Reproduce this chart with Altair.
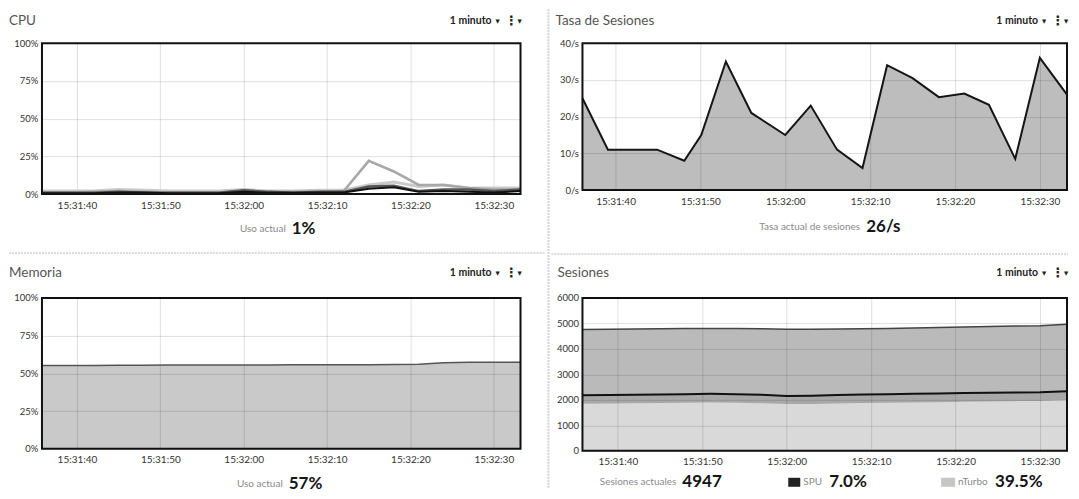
import altair as alt
import pandas as pd

# ---------------- data ----------------
tick_seconds = [40, 50, 60, 70, 80, 90]
tick_labels = ["15:31:40", "15:31:50", "15:32:00", "15:32:10", "15:32:20", "15:32:30"]

sample_times = ["15:31:35.8", "15:31:39.0", "15:31:42.0", "15:31:45.0", "15:31:48.0",
                "15:31:51.0", "15:31:54.0", "15:31:57.0", "15:32:00.0", "15:32:03.0",
                "15:32:06.0", "15:32:09.0", "15:32:12.0", "15:32:15.0", "15:32:18.0",
                "15:32:21.0", "15:32:24.0", "15:32:27.0", "15:32:30.0", "15:32:33.2"]

# CPU (%), four cores
cpu_spike = [1, 1, 1.5, 2, 1.5, 1, 1, 1, 2, 1.5, 1.5, 1.5, 2, 22, 15, 6, 6, 4, 3, 3]
cpu_light = [2, 2, 2, 3, 2.5, 2, 2, 2, 3, 2, 2, 2.5, 2.5, 6, 8, 5, 6, 4, 4, 4]
cpu_mid = [1, 1, 1, 1.5, 1, 1, 1, 1, 2.5, 1.5, 1, 1.5, 1.5, 5, 5.5, 2, 3, 3, 2, 3]
cpu_dark = [0.5, 0.5, 0.5, 1, 1, 0.5, 0.5, 0.5, 1.5, 0.8, 0.8, 1, 1, 3.5, 4.5, 1.5, 2, 1.5, 1, 2]

# Session rate (/s)
tasa_times = ["15:31:36.1", "15:31:39.1", "15:31:42.0", "15:31:44.9", "15:31:48.1",
              "15:31:50.1", "15:31:53.0", "15:31:56.0", "15:32:00.0", "15:32:03.0",
              "15:32:06.1", "15:32:09.1", "15:32:12.0", "15:32:15.0", "15:32:18.1",
              "15:32:21.1", "15:32:24.0", "15:32:27.1", "15:32:30.0", "15:32:33.2"]
tasa_values = [25, 11, 11, 11, 8, 15, 35, 21, 15, 23, 11, 6, 34, 30.5, 25.3, 26.3, 23.2, 8.5, 36, 26]

# Memory (%)
mem_values = [55.2, 55.3, 55.3, 55.4, 55.4, 55.5, 55.5, 55.6, 55.6, 55.6,
              55.7, 55.7, 55.8, 55.8, 55.9, 56.0, 57.1, 57.3, 57.3, 57.4]

# Sessions
ses_nturbo = [1850, 1860, 1870, 1880, 1890, 1900, 1890, 1870, 1840, 1840,
              1860, 1880, 1890, 1900, 1910, 1930, 1940, 1950, 1960, 1990]
ses_spu = [330, 335, 335, 335, 335, 335, 335, 330, 310, 320,
           330, 330, 330, 335, 335, 335, 340, 340, 340, 350]
ses_total = [4760, 4770, 4780, 4790, 4800, 4805, 4800, 4790, 4770, 4775,
             4785, 4790, 4800, 4820, 4840, 4860, 4880, 4900, 4910, 4965]

pct_ticks = [0, 25, 50, 75, 100]
rate_ticks = [0, 10, 20, 30, 40]
ses_ticks = [0, 1000, 2000, 3000, 4000, 5000, 6000]

panel_titles = ["CPU", "Tasa de Sesiones", "Memoria", "Sesiones"]
range_label = "1 minuto"
cpu_caption = ["Uso actual", "1%"]
rate_caption = ["Tasa actual de sesiones", "26/s"]
mem_caption = ["Uso actual", "57%"]
ses_caption = ["Sesiones actuales", "4947"]
legend_names = ["SPU", "nTurbo"]
legend_values = ["7.0%", "39.5%"]


def secs(s):
    h, m, sec = s.split(":")
    return (int(h) - 15) * 3600 + (int(m) - 31) * 60 + float(sec)


t_main = [secs(s) for s in sample_times]
t_rate = [secs(s) for s in tasa_times]

FONT = "Lato"
LABEL_EXPR = ("[" + ",".join("'%s'" % l for l in tick_labels) + "][indexof(["
              + ",".join(str(v) for v in tick_seconds) + "], datum.value)]")

AXIS_COMMON = dict(title=None, grid=True, gridColor="#000", gridOpacity=0.13,
                   domain=False, ticks=False, labelOverlap=False, labelBound=False,
                   labelFont=FONT, labelColor="#333")


def x_enc(times):
    return alt.X("t:Q",
                 scale=alt.Scale(domain=[min(times), max(times)], nice=False, zero=False),
                 axis=alt.Axis(values=tick_seconds, labelExpr=LABEL_EXPR,
                               labelPadding=6, labelFontSize=10, labelFlush=False,
                               **AXIS_COMMON))


def y_enc(field, dom, ticks, expr):
    return alt.Y(field + ":Q", scale=alt.Scale(domain=dom, nice=False), stack=None,
                 axis=alt.Axis(values=ticks, labelExpr=expr, tickCount=len(ticks),
                               labelPadding=4, labelFontSize=9.5, labelFlush=False,
                               **AXIS_COMMON))


def txt(s, x, y, size=10, weight="normal", color="#333", align="left", font=FONT):
    return alt.Chart(pd.DataFrame({"label": [s]})).mark_text(
        align=align, baseline="middle", fontSize=size, fontWeight=weight,
        color=color, font=font).encode(x=alt.value(x), y=alt.value(y), text="label:N")


def header(title, W, y, tx):
    return [
        txt(title, tx, y, size=13.5, color="#555"),
        txt(range_label, W - 29, y, size=10.5, weight="bold", color="#222", align="right"),
        txt("▼", W - 23, y, size=5.5, color="#222", align="center", font="DejaVu Sans"),
        txt("⋮", W - 9, y, size=13, weight="bold", color="#222", align="center", font="DejaVu Sans"),
        txt("▼", W - 1, y, size=5.5, color="#222", align="center", font="DejaVu Sans"),
    ]


def caption(label, value, xr, y):
    return [
        txt(label, xr, y, size=10, color="#8a8a8a", align="right"),
        txt(value, xr + 6, y, size=17, weight="bold", color="#151515"),
    ]


def frame(W, H):
    return alt.Chart(pd.DataFrame({"f": [0]})).mark_rect(
        fillOpacity=0, stroke="#111", strokeWidth=2).encode(
        x=alt.value(0), x2=alt.value(W), y=alt.value(0), y2=alt.value(H))


def hrule(x1, x2, y):
    return alt.Chart(pd.DataFrame({"f": [0]})).mark_rule(
        color="#cfcfcf", strokeWidth=1.5, strokeDash=[2, 1]).encode(
        x=alt.value(x1), x2=alt.value(x2), y=alt.value(y))


def vrule(x, y1, y2):
    return alt.Chart(pd.DataFrame({"f": [0]})).mark_rule(
        color="#d4d4d4", strokeWidth=2, strokeDash=[2, 1]).encode(
        x=alt.value(x), y=alt.value(y1), y2=alt.value(y2))


# ---------------- CPU ----------------
W1, H1 = 479, 151
pct_expr = "datum.value + '%'"
cpu_series = ["light", "spike", "mid", "dark"]
cpu_df = pd.DataFrame({"t": t_main, "light": cpu_light, "spike": cpu_spike,
                       "mid": cpu_mid, "dark": cpu_dark}).melt(
    "t", value_vars=cpu_series, var_name="core", value_name="v")
cpu_df["order"] = cpu_df["core"].map({k: i for i, k in enumerate(cpu_series)})
cpu_layers = [
    alt.Chart(cpu_df).mark_line().encode(
        x=x_enc(t_main), y=y_enc("v", [0, 100], pct_ticks, pct_expr),
        detail="core:N",
        color=alt.Color("core:N", scale=alt.Scale(domain=cpu_series,
                        range=["#c9c9c9", "#a8a8a8", "#555555", "#111111"]), legend=None),
        strokeWidth=alt.StrokeWidth("core:N", scale=alt.Scale(domain=cpu_series,
                                    range=[3, 2, 2, 2.5]), legend=None),
        order="order:Q"),
    frame(W1, H1),
    vrule(507, -34, 446),
    hrule(-33, 504, 210),
] + header(panel_titles[0], W1, -22, -33) + caption(cpu_caption[0], cpu_caption[1], 244, 186)
cpu = alt.layer(*cpu_layers).properties(width=W1, height=H1)

# ---------------- Tasa de sesiones ----------------
W2, H2 = 485, 147
rate_df = pd.DataFrame({"t": t_rate, "v": tasa_values})
base_rate = alt.Chart(rate_df).encode(
    x=x_enc(t_rate), y=y_enc("v", [0, 40], rate_ticks, "datum.value + '/s'"))
rate_layers = [
    base_rate.mark_area(color="#000", fillOpacity=0.26),
    base_rate.mark_line(color="#151515", strokeWidth=2),
    frame(W2, H2),
    hrule(-31, 486, 211),
] + header(panel_titles[1], W2, -22, -27) + caption(rate_caption[0], rate_caption[1], 278, 184)
rate = alt.layer(*rate_layers).properties(width=W2, height=H2)

# ---------------- Memoria ----------------
W3, H3 = 479, 151
mem_df = pd.DataFrame({"t": t_main, "v": mem_values})
base_mem = alt.Chart(mem_df).encode(
    x=x_enc(t_main), y=y_enc("v", [0, 100], pct_ticks, pct_expr))
mem_layers = [
    base_mem.mark_area(color="#000", fillOpacity=0.21),
    base_mem.mark_line(color="#555", strokeWidth=1.5),
    frame(W3, H3),
] + header(panel_titles[2], W3, -25, -33) + caption(mem_caption[0], mem_caption[1], 241, 186)
mem = alt.layer(*mem_layers).properties(width=W3, height=H3)

# ---------------- Sesiones ----------------
W4, H4 = 485, 153
ses_df = pd.DataFrame({"t": t_main, "nturbo": ses_nturbo, "spu": ses_spu, "total": ses_total})
ses_df["spu_top"] = ses_df["nturbo"] + ses_df["spu"]
ses_df["zero"] = 0
base_ses = alt.Chart(ses_df).encode(x=x_enc(t_main))
ses_layers = [
    base_ses.mark_area(color="#000", fillOpacity=0.15).encode(
        y=y_enc("nturbo", [0, 6000], ses_ticks, "format(datum.value, 'd')"),
        y2="zero:Q"),
    base_ses.mark_area(color="#000", fillOpacity=0.34).encode(
        y=alt.Y("spu_top:Q", stack=None), y2="nturbo:Q"),
    base_ses.mark_area(color="#000", fillOpacity=0.27).encode(
        y=alt.Y("total:Q", stack=None), y2="spu_top:Q"),
    base_ses.mark_line(color="#111", strokeWidth=2).encode(y=alt.Y("spu_top:Q", stack=None)),
    base_ses.mark_line(color="#444", strokeWidth=1.5).encode(y=alt.Y("total:Q", stack=None)),
    frame(W4, H4),
    alt.Chart(pd.DataFrame({"f": [0]})).mark_rect(color="#222").encode(
        x=alt.value(206), x2=alt.value(218), y=alt.value(180), y2=alt.value(189)),
    alt.Chart(pd.DataFrame({"f": [0]})).mark_rect(color="#c6c6c6").encode(
        x=alt.value(359), x2=alt.value(373), y=alt.value(180), y2=alt.value(189)),
    txt(legend_names[0], 221, 184, size=10, color="#8a8a8a"),
    txt(legend_values[0], 247, 184, size=17, weight="bold", color="#151515"),
    txt(legend_names[1], 376, 184, size=10, color="#8a8a8a"),
    txt(legend_values[1], 413, 184, size=17, weight="bold", color="#151515"),
] + header(panel_titles[3], W4, -25, -25) + caption(ses_caption[0], ses_caption[1], 94, 184)
ses = alt.layer(*ses_layers).properties(width=W4, height=H4)

chart = alt.concat(cpu, rate, mem, ses, columns=2,
                   spacing={"row": 104, "column": 62},
                   bounds="flush").properties(
    padding=0, background="white"
).configure_view(strokeWidth=0)

chart.save("out.html", embed_options={"renderer": "svg", "actions": False})
